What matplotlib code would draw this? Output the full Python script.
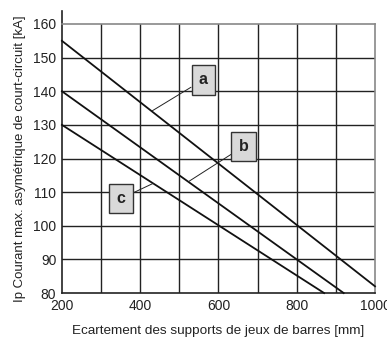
import matplotlib
matplotlib.use("Agg")
import matplotlib.pyplot as plt

plt.rcParams['font.family'] = ['Liberation Sans', 'DejaVu Sans']

# Lignes a, b, c (extrémités)
a_x = [200, 1000]
a_y = [155, 82]
b_x = [200, 920]
b_y = [140, 80]
c_x = [200, 870]
c_y = [130, 80]

# étiquettes : (texte, position boîte, point sur la courbe)
labels = ["a", "b", "c"]
box_pos = [(561, 143.4), (664, 123.6), (351, 108.1)]
anchor_pos = [(431, 134.2), (523, 113.1), (433, 112.6)]

x_ticks = [200, 400, 600, 800, 1000]
y_ticks = [80, 90, 100, 110, 120, 130, 140, 150, 160]

fig = plt.figure(figsize=(3.87, 3.38), dpi=100)
ax = fig.add_axes([0.160, 0.133, 0.809, 0.796])

ax.set_xlim(200, 1000)
ax.set_ylim(80, 160)

# grille
for x in range(300, 1000, 100):
    ax.axvline(x, color='#222222', lw=1.0, zorder=1)
for y in y_ticks[1:-1]:
    ax.axhline(y, color='#222222', lw=1.0, zorder=1)

for xs, ys in [(a_x, a_y), (b_x, b_y), (c_x, c_y)]:
    ax.plot(xs, ys, color='#111111', lw=1.3, zorder=3, clip_on=False)

for txt, (bx, by), (px, py) in zip(labels, box_pos, anchor_pos):
    ax.annotate(txt, xy=(px, py), xytext=(bx, by),
                ha='center', va='center', fontsize=11.5, fontweight='bold',
                color='#222222',
                bbox=dict(boxstyle='square,pad=0.45', fc='#d9d9d9', ec='#333333', lw=1.0),
                arrowprops=dict(arrowstyle='-', color='#222222', lw=0.7,
                                shrinkA=0, shrinkB=0),
                zorder=5)

ax.set_xticks(x_ticks)
ax.set_yticks(y_ticks)
ax.tick_params(length=0, labelsize=10, pad=4, colors='#222222')

for side in ['top', 'right']:
    ax.spines[side].set_color('#888888')
    ax.spines[side].set_linewidth(1.2)
for side in ['left', 'bottom']:
    ax.spines[side].set_color('#222222')
    ax.spines[side].set_linewidth(1.2)
ax.spines['left'].set_bounds(80, 164)

ax.set_xlabel("Ecartement des supports de jeux de barres [mm]", fontsize=9.7,
              labelpad=9, color='#222222')
ax.set_ylabel("Ip Courant max. asymétrique de court-circuit [kA]", fontsize=9.5,
              labelpad=5, color='#222222')

fig.savefig("out.png", dpi=100)
